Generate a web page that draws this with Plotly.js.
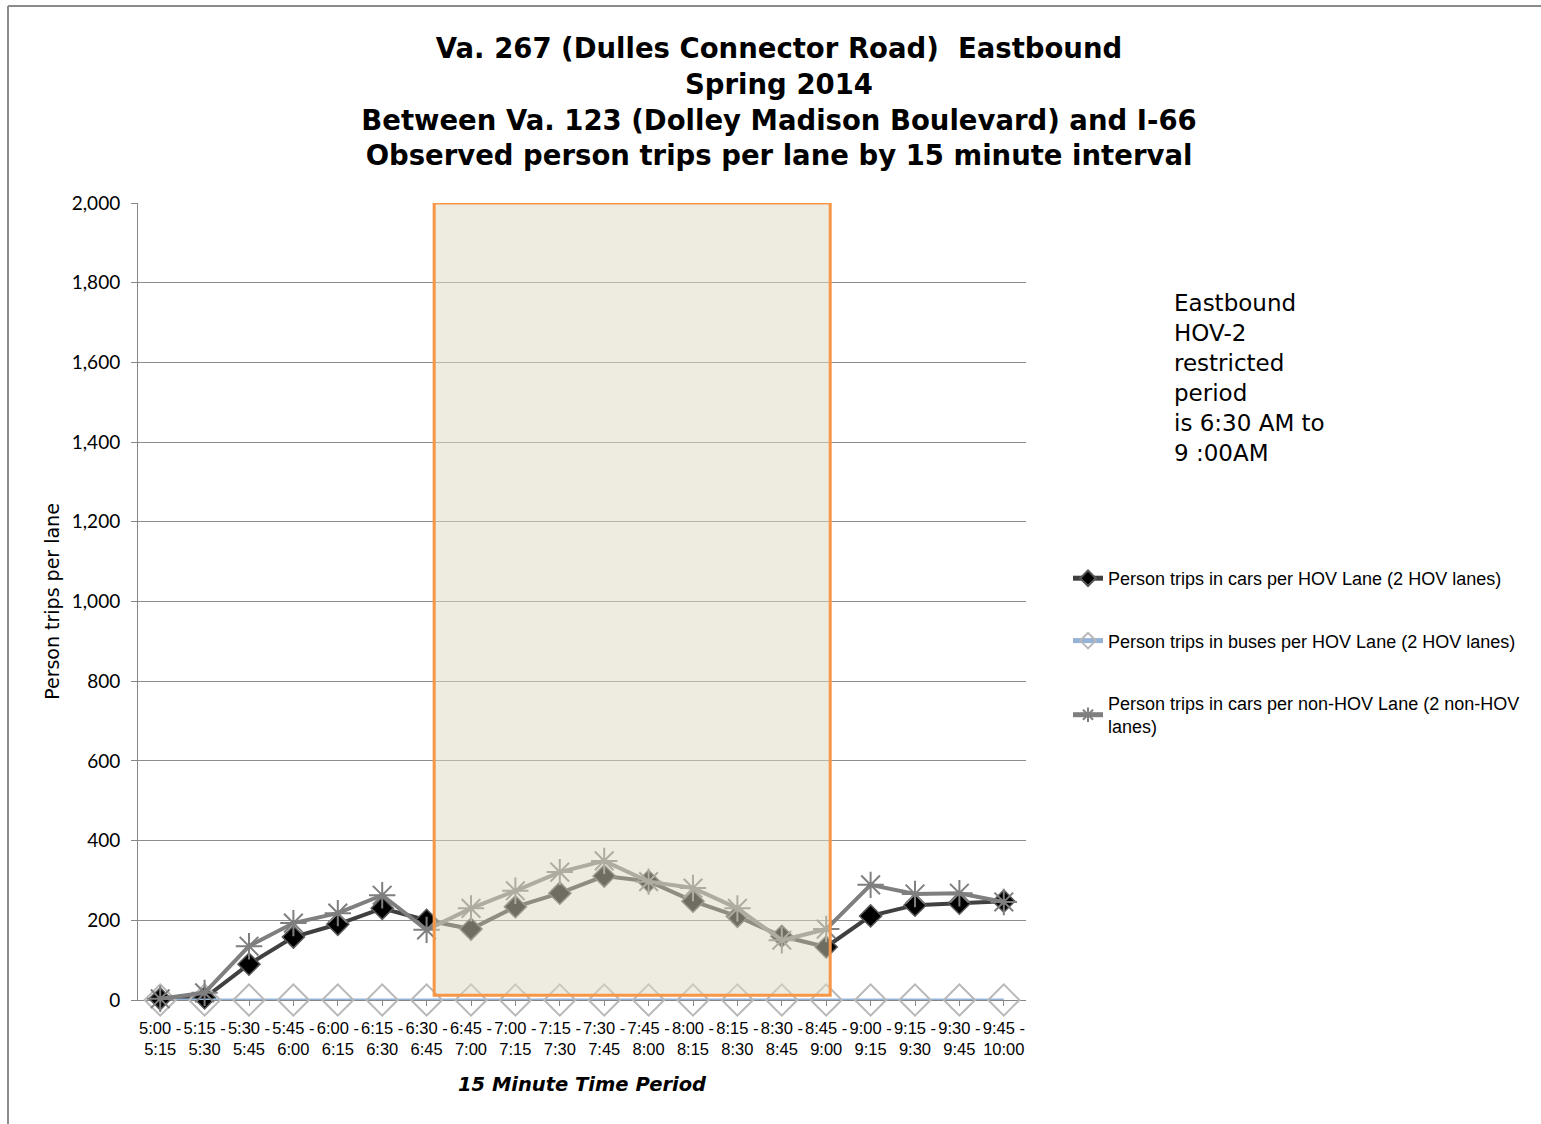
<!DOCTYPE html>
<html>
<head>
<meta charset="utf-8">
<script src="https://cdn.plot.ly/plotly-3.0.1.min.js"></script>
<style>
  html, body { margin: 0; padding: 0; background: #ffffff; }
  #chart { width: 1541px; height: 1124px; }
</style>
</head>
<body>
<div id="chart"></div>
<script>
// ---- Data ----
const periods = [
  '5:00 -<br>5:15', '5:15 -<br>5:30', '5:30 -<br>5:45', '5:45 -<br>6:00',
  '6:00 -<br>6:15', '6:15 -<br>6:30', '6:30 -<br>6:45', '6:45 -<br>7:00',
  '7:00 -<br>7:15', '7:15 -<br>7:30', '7:30 -<br>7:45', '7:45 -<br>8:00',
  '8:00 -<br>8:15', '8:15 -<br>8:30', '8:30 -<br>8:45', '8:45 -<br>9:00',
  '9:00 -<br>9:15', '9:15 -<br>9:30', '9:30 -<br>9:45', '9:45 -<br>10:00'
];
const hovCars =    [3, 5, 90, 158, 190, 230, 200, 178, 234, 268, 311, 298, 248, 210, 160, 133, 211, 238, 243, 248];
const hovBuses =   [0, 0, 0, 0, 0, 0, 0, 0, 0, 0, 0, 0, 0, 0, 0, 0, 0, 0, 0, 0];
const nonHovCars = [3, 18, 135, 193, 218, 263, 176, 230, 274, 321, 349, 297, 281, 230, 150, 178, 289, 266, 268, 246];
const yTicks = [0, 200, 400, 600, 800, 1000, 1200, 1400, 1600, 1800, 2000];

const titleLines = [
  'Va. 267 (Dulles Connector Road)  Eastbound',
  'Spring 2014',
  'Between Va. 123 (Dolley Madison Boulevard) and I-66',
  'Observed person trips per lane by 15 minute interval'
];
const noteLines = ['Eastbound', 'HOV-2', 'restricted', 'period', 'is 6:30 AM to', '9 :00AM'];

// ---- Traces ----
const sansFont = '"Liberation Sans", Arial, sans-serif';

const traces = [
  {
    x: periods, y: hovCars, type: 'scatter', mode: 'lines+markers',
    name: 'Person trips in cars per HOV Lane (2 HOV lanes)',
    legendgroup: 'a', cliponaxis: false,
    line: { color: '#404040', width: 4 },
    marker: { symbol: 'diamond', size: 17, color: '#000000', line: { color: '#595959', width: 1.5 } }
  },
  {
    x: periods, y: hovBuses, type: 'scatter', mode: 'lines+markers',
    name: 'Person trips in buses per HOV Lane (2 HOV lanes)',
    legendgroup: 'b', cliponaxis: false,
    line: { color: '#95b3d7', width: 3 },
    marker: { symbol: 'diamond-open', size: 24, color: '#b8b8b8', line: { color: '#b8b8b8', width: 2 } }
  },
  {
    x: periods, y: nonHovCars, type: 'scatter', mode: 'lines+markers',
    name: 'Person trips in cars per non-HOV Lane (2 non-HOV<br>lanes)',
    legendgroup: 'c', cliponaxis: false,
    line: { color: '#7f7f7f', width: 4 },
    marker: { symbol: 'asterisk-open', size: 22, color: '#7f7f7f', line: { color: '#7f7f7f', width: 2 } }
  }
];

// ---- Layout ----
const L = 138, R = 1026, T = 203, B = 1000;
const PW = R - L, PH = B - T;
const px = v => (v - L) / PW;      // pixel x -> paper x
const py = v => (B - v) / PH;      // pixel y -> paper y

const layout = {
  width: 1541, height: 1124,
  paper_bgcolor: '#ffffff', plot_bgcolor: '#ffffff',
  margin: { l: L, r: 1541 - R, t: T, b: 1124 - B },
  title: {
    text: titleLines.join('<br>'),
    font: { family: '"DejaVu Sans", sans-serif', size: 27.5, color: '#000000', weight: 'bold' },
    x: 779 / 1541, xanchor: 'center',
    y: 1 - 58 / 1124, yanchor: 'middle'
  },
  showlegend: true,
  legend: {
    x: px(1068), xanchor: 'left',
    y: py(560), yanchor: 'top',
    font: { family: sansFont, size: 18, color: '#000000' },
    tracegroupgap: 36,
    itemsizing: 'constant',
    bgcolor: 'rgba(0,0,0,0)'
  },
  xaxis: {
    type: 'category',
    range: [-0.5, 19.5],
    showline: true, linecolor: '#868686', linewidth: 1,
    ticks: 'outside', ticklen: 5, tickcolor: '#868686',
    showgrid: false,
    layer: 'below traces',
    tickangle: 0,
    ticklabelstandoff: 8,
    tickfont: { family: sansFont, size: 16.5, color: '#000000' },
    title: {
      text: '15 Minute Time Period',
      font: { family: '"DejaVu Sans", sans-serif', size: 19.5, color: '#000000', weight: 'bold', style: 'italic' },
      standoff: 20
    }
  },
  yaxis: {
    range: [0, 2000],
    tickvals: yTicks,
    tickformat: ',d',
    showline: true, linecolor: '#868686', linewidth: 1,
    ticks: 'outside', ticklen: 6, tickcolor: '#868686',
    showgrid: true, gridcolor: '#8c8c8c', gridwidth: 1,
    zeroline: false,
    layer: 'below traces',
    ticklabelstandoff: 7,
    tickfont: { family: '"Lato", "Open Sans", sans-serif', size: 19, color: '#000000' },
    title: {
      text: 'Person trips per lane',
      font: { family: '"DejaVu Sans", sans-serif', size: 19, color: '#000000' },
      standoff: 7
    }
  },
  shapes: [
    {
      type: 'rect', xref: 'x', yref: 'y',
      x0: 6.17, x1: 15.09, y0: 12, y1: 2000,
      layer: 'above',
      fillcolor: 'rgba(221,217,195,0.5)',
      line: { color: '#f79646', width: 3 }
    },
    {
      type: 'line', xref: 'paper', yref: 'paper',
      x0: px(8), x1: px(8), y0: py(1124), y1: py(6),
      line: { color: '#8c8c8c', width: 2 }
    },
    {
      type: 'line', xref: 'paper', yref: 'paper',
      x0: px(8), x1: px(1541), y0: py(6), y1: py(6),
      line: { color: '#8c8c8c', width: 2 }
    }
  ],
  annotations: [
    {
      xref: 'paper', yref: 'paper',
      x: px(1172), xanchor: 'left',
      y: py(288), yanchor: 'top',
      align: 'left', showarrow: false,
      text: noteLines.join('<br>'),
      font: { family: '"DejaVu Sans", sans-serif', size: 23, color: '#000000' }
    }
  ]
};

Plotly.newPlot('chart', traces, layout, { displayModeBar: false, responsive: false });
</script>
</body>
</html>
